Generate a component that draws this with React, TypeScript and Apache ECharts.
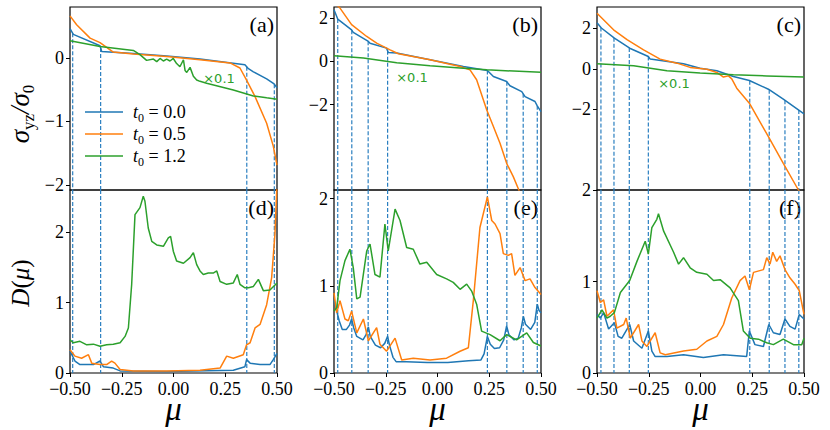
import React, { useEffect, useRef } from "react";
import * as echarts from "echarts";

// ---------- data ----------
const muTicks = [-0.5, -0.25, 0, 0.25, 0.5];
const seriesNames = ["t0 = 0.0", "t0 = 0.5", "t0 = 1.2"];
const seriesColors = ["#1f77b4", "#ff7f0e", "#2ca02c"];
const panelLetters = ["(a)", "(b)", "(c)", "(d)", "(e)", "(f)"];

const topTicksA = [-2, -1, 0];
const topTicksBC = [-2, 0, 2];
const bottomTicks = [0, 1, 2];
const topRanges = [[-2.08, 0.8], [-5.97, 2.53], [-6.0, 3.06]];
const bottomRanges = [[0, 2.6], [0, 2.1], [0, 2.0]];

const dashA = [-0.487, -0.352, 0.354, 0.487];
const dashB = [-0.482, -0.414, -0.335, -0.241, 0.241, 0.335, 0.414, 0.482];
const dashC = [-0.481, -0.418, -0.344, -0.252, 0.238, 0.332, 0.408, 0.475];

// panel (a): sigma_yz / sigma_0
const aBlue = [[-0.5, 0.46], [-0.484, 0.37], [-0.355, 0.19], [-0.347, 0.1], [-0.194, 0.07], [-0.033, 0.03], [0.128, -0.02], [0.345, -0.11], [0.362, -0.17], [0.386, -0.22], [0.45, -0.33], [0.486, -0.41], [0.5, -0.47]];
const aOrange = [[-0.5, 0.66], [-0.468, 0.52], [-0.403, 0.31], [-0.355, 0.24], [-0.291, 0.09], [-0.194, 0.06], [-0.033, 0.02], [0.128, -0.03], [0.273, -0.08], [0.321, -0.16], [0.353, -0.35], [0.394, -0.61], [0.45, -1.03], [0.482, -1.39], [0.5, -1.69]];
const aGreen = [[-0.5, 0.27], [-0.355, 0.18], [-0.194, 0.116], [-0.162, 0.05], [-0.13, -0.04], [-0.097, -0.02], [-0.081, -0.06], [-0.065, -0.01], [-0.049, -0.05], [-0.033, -0.02], [-0.017, -0.05], [-0.001, -0.01], [0.015, -0.09], [0.031, -0.14], [0.048, -0.03], [0.056, -0.2], [0.064, -0.23], [0.08, -0.15], [0.096, -0.29], [0.112, -0.35], [0.128, -0.37], [0.16, -0.4], [0.289, -0.505], [0.386, -0.6], [0.45, -0.63], [0.5, -0.65]];

// panel (b)
const bBlue = [[-0.5, 2.4], [-0.482, 1.97], [-0.415, 1.47], [-0.407, 1.35], [-0.334, 0.93], [-0.326, 0.85], [-0.246, 0.62], [-0.238, 0.42], [-0.197, 0.39], [-0.036, 0.08], [0.125, -0.23], [0.241, -0.42], [0.27, -0.7], [0.334, -0.93], [0.35, -1.13], [0.407, -1.4], [0.423, -1.63], [0.471, -1.86], [0.482, -2.06], [0.5, -2.33]];
const bOrange = [[-0.5, 2.75], [-0.471, 2.48], [-0.415, 1.71], [-0.342, 1.16], [-0.294, 0.85], [-0.229, 0.54], [-0.189, 0.36], [-0.036, 0.08], [0.109, -0.23], [0.157, -0.39], [0.189, -0.85], [0.238, -2.25], [0.27, -3.02], [0.302, -3.8], [0.334, -4.73], [0.366, -5.35], [0.39, -5.9], [0.399, -6.12]];
const bGreen = [[-0.5, 0.26], [-0.358, 0.16], [-0.197, -0.06], [-0.036, -0.2], [0.125, -0.31], [0.238, -0.39], [0.5, -0.5]];

// panel (c)
const cBlue = [[-0.5, 2.28], [-0.479, 2.02], [-0.416, 1.52], [-0.342, 1.02], [-0.252, 0.61], [-0.243, 0.48], [-0.082, 0.25], [-0.002, 0.03], [0.079, -0.1], [0.159, -0.38], [0.236, -0.58], [0.328, -1.01], [0.4, -1.5], [0.473, -2.03], [0.5, -2.23]];
const cOrange = [[-0.5, 2.75], [-0.42, 1.93], [-0.355, 1.44], [-0.275, 0.94], [-0.195, 0.48], [-0.114, 0.28], [-0.05, 0.07], [0.031, -0.02], [0.079, -0.18], [0.111, -0.41], [0.135, -0.35], [0.151, -0.5], [0.175, -0.96], [0.236, -1.7], [0.328, -3.36], [0.4, -4.68], [0.473, -6.0], [0.48, -6.1]];
const cGreen = [[-0.5, 0.25], [-0.323, 0.15], [-0.162, -0.1], [-0.002, -0.21], [0.159, -0.3], [0.32, -0.35], [0.5, -0.41]];

// panel (d): D(mu)
const dBlue = [[-0.5, 0.31], [-0.476, 0.17], [-0.452, 0.12], [-0.387, 0.12], [-0.355, 0.17], [-0.339, 0.09], [-0.291, 0.07], [-0.258, 0.03], [-0.033, 0.02], [0.289, 0.04], [0.345, 0.09], [0.353, 0.19], [0.37, 0.14], [0.418, 0.12], [0.466, 0.12], [0.482, 0.19], [0.5, 0.28]];
const dOrange = [[-0.5, 0.33], [-0.476, 0.24], [-0.444, 0.21], [-0.411, 0.26], [-0.395, 0.14], [-0.355, 0.12], [-0.323, 0.12], [-0.299, 0.17], [-0.283, 0.14], [-0.258, 0.05], [-0.194, 0.03], [-0.033, 0.03], [0.128, 0.04], [0.225, 0.07], [0.257, 0.24], [0.289, 0.21], [0.337, 0.26], [0.353, 0.4], [0.37, 0.43], [0.394, 0.64], [0.418, 0.69], [0.45, 0.97], [0.474, 1.35], [0.49, 1.97], [0.5, 2.7]];
const dGreen = [[-0.5, 0.47], [-0.484, 0.43], [-0.452, 0.45], [-0.419, 0.4], [-0.387, 0.41], [-0.355, 0.38], [-0.323, 0.4], [-0.291, 0.41], [-0.258, 0.43], [-0.234, 0.52], [-0.218, 0.64], [-0.202, 1.26], [-0.186, 2.25], [-0.162, 2.35], [-0.146, 2.51], [-0.138, 2.44], [-0.122, 2.06], [-0.105, 1.87], [-0.081, 1.82], [-0.049, 1.8], [-0.025, 1.92], [-0.014, 1.94], [-0.001, 1.73], [0.015, 1.59], [0.048, 1.56], [0.08, 1.64], [0.096, 1.71], [0.112, 1.54], [0.128, 1.45], [0.144, 1.4], [0.168, 1.42], [0.192, 1.42], [0.209, 1.45], [0.225, 1.3], [0.257, 1.26], [0.289, 1.28], [0.308, 1.4], [0.321, 1.26], [0.345, 1.21], [0.362, 1.21], [0.386, 1.23], [0.41, 1.33], [0.434, 1.17], [0.466, 1.18], [0.5, 1.28]];

// panel (e)
const eBlue = [[-0.5, 0.83], [-0.49, 0.74], [-0.475, 0.6], [-0.46, 0.5], [-0.44, 0.5], [-0.425, 0.55], [-0.415, 0.62], [-0.405, 0.52], [-0.39, 0.42], [-0.36, 0.38], [-0.345, 0.44], [-0.334, 0.53], [-0.325, 0.42], [-0.3, 0.32], [-0.275, 0.29], [-0.255, 0.34], [-0.241, 0.42], [-0.232, 0.32], [-0.215, 0.18], [-0.2, 0.13], [-0.15, 0.13], [-0.05, 0.12], [0.05, 0.12], [0.15, 0.14], [0.21, 0.15], [0.225, 0.22], [0.241, 0.42], [0.255, 0.33], [0.275, 0.28], [0.3, 0.29], [0.32, 0.38], [0.334, 0.54], [0.345, 0.44], [0.37, 0.38], [0.39, 0.4], [0.405, 0.52], [0.415, 0.65], [0.425, 0.56], [0.45, 0.5], [0.47, 0.58], [0.482, 0.79], [0.49, 0.72], [0.5, 0.69]];
const eOrange = [[-0.5, 0.92], [-0.487, 0.69], [-0.471, 0.83], [-0.447, 0.62], [-0.431, 0.6], [-0.415, 0.71], [-0.39, 0.46], [-0.358, 0.62], [-0.334, 0.37], [-0.294, 0.52], [-0.278, 0.33], [-0.246, 0.25], [-0.205, 0.4], [-0.173, 0.15], [-0.117, 0.17], [-0.036, 0.15], [0.044, 0.17], [0.109, 0.25], [0.149, 0.29], [0.173, 0.83], [0.205, 1.67], [0.241, 2.02], [0.262, 1.75], [0.278, 1.71], [0.302, 1.6], [0.318, 1.37], [0.342, 1.35], [0.358, 1.37], [0.374, 1.12], [0.399, 1.21], [0.423, 1.06], [0.447, 1.08], [0.471, 0.98], [0.5, 0.9]];
const eGreen = [[-0.5, 0.71], [-0.487, 0.75], [-0.471, 1.06], [-0.447, 1.29], [-0.423, 1.42], [-0.407, 1.21], [-0.39, 0.85], [-0.374, 0.87], [-0.342, 1.4], [-0.326, 1.48], [-0.302, 1.13], [-0.278, 1.1], [-0.254, 1.71], [-0.238, 1.4], [-0.205, 1.88], [-0.181, 1.75], [-0.149, 1.44], [-0.117, 1.42], [-0.085, 1.25], [-0.052, 1.27], [-0.004, 1.13], [0.044, 1.08], [0.076, 1.04], [0.109, 0.96], [0.141, 1.02], [0.165, 0.94], [0.189, 0.79], [0.213, 0.48], [0.254, 0.44], [0.302, 0.37], [0.334, 0.44], [0.382, 0.38], [0.431, 0.46], [0.463, 0.35], [0.5, 0.31]];

// panel (f)
const fBlue = [[-0.5, 0.64], [-0.484, 0.6], [-0.468, 0.66], [-0.444, 0.48], [-0.416, 0.55], [-0.398, 0.4], [-0.38, 0.38], [-0.342, 0.53], [-0.323, 0.35], [-0.283, 0.27], [-0.252, 0.46], [-0.235, 0.24], [-0.219, 0.18], [-0.162, 0.18], [-0.082, 0.2], [0.014, 0.17], [0.111, 0.2], [0.223, 0.18], [0.236, 0.46], [0.263, 0.31], [0.304, 0.29], [0.33, 0.53], [0.352, 0.44], [0.384, 0.42], [0.408, 0.59], [0.432, 0.51], [0.457, 0.48], [0.477, 0.64], [0.5, 0.59]];
const fOrange = [[-0.5, 0.9], [-0.484, 0.77], [-0.468, 0.8], [-0.452, 0.62], [-0.42, 0.69], [-0.404, 0.49], [-0.371, 0.53], [-0.359, 0.6], [-0.339, 0.38], [-0.299, 0.53], [-0.283, 0.35], [-0.259, 0.29], [-0.219, 0.44], [-0.195, 0.22], [-0.17, 0.2], [-0.082, 0.24], [-0.018, 0.26], [0.031, 0.35], [0.079, 0.4], [0.111, 0.53], [0.151, 0.82], [0.191, 1.01], [0.215, 1.06], [0.236, 0.91], [0.256, 1.1], [0.304, 1.13], [0.32, 1.26], [0.336, 1.19], [0.349, 1.32], [0.368, 1.22], [0.384, 1.28], [0.408, 1.13], [0.432, 1.04], [0.457, 0.97], [0.477, 0.9], [0.5, 0.64]];
const fGreen = [[-0.5, 0.6], [-0.476, 0.69], [-0.452, 0.6], [-0.436, 0.62], [-0.416, 0.66], [-0.387, 0.88], [-0.342, 1.01], [-0.307, 1.22], [-0.267, 1.44], [-0.252, 1.3], [-0.235, 1.59], [-0.211, 1.68], [-0.203, 1.74], [-0.178, 1.55], [-0.13, 1.32], [-0.106, 1.19], [-0.082, 1.26], [-0.05, 1.15], [-0.018, 1.1], [0.031, 1.08], [0.063, 1.01], [0.095, 1.02], [0.111, 0.99], [0.143, 0.93], [0.183, 0.79], [0.207, 0.46], [0.24, 0.38], [0.28, 0.37], [0.32, 0.33], [0.352, 0.31], [0.4, 0.37], [0.449, 0.31], [0.489, 0.31], [0.5, 0.38]];

const topData = [[aBlue, aOrange, aGreen], [bBlue, bOrange, bGreen], [cBlue, cOrange, cGreen]];
const bottomData = [[dBlue, dOrange, dGreen], [eBlue, eOrange, eGreen], [fBlue, fOrange, fGreen]];
const dashData = [dashA, dashB, dashC];
const topTickSets = [topTicksA, topTicksBC, topTicksBC];

// ---------- helpers ----------
function interp(pts: number[][], x: number) {
  for (let i = 0; i < pts.length - 1; i++) {
    if (x >= pts[i][0] && x <= pts[i + 1][0]) {
      const t = (x - pts[i][0]) / (pts[i + 1][0] - pts[i][0]);
      return pts[i][1] + t * (pts[i + 1][1] - pts[i][1]);
    }
  }
  return pts[pts.length - 1][1];
}
const minus = (v: number, d: number) => (v < 0 ? "\u2212" : "") + Math.abs(v).toFixed(d);

const SERIF = "'Liberation Serif', 'Times New Roman', serif";

export default function App() {
  const ref = useRef<HTMLDivElement>(null);
  useEffect(() => {
    document.body.style.margin = "0";
    const chart = echarts.init(ref.current!, undefined, { renderer: "svg" });
    const colLeft = [70, 334, 597];
    const W = 207;
    const H = 183;
    const topY = 7;
    const botY = 190;

    const grids: any[] = [];
    const xAxes: any[] = [];
    const yAxes: any[] = [];
    const series: any[] = [];
    const graphics: any[] = [];

    const gridStyle = { show: true, borderColor: "#000", borderWidth: 1.2, backgroundColor: "transparent" };
    const tick = { show: true, inside: false, length: 4, lineStyle: { color: "#000", width: 1 } };
    const lbl = { color: "#000", fontFamily: SERIF, fontSize: 18 };

    for (let c = 0; c < 3; c++) {
      for (let r = 0; r < 2; r++) {
        const gi = grids.length;
        grids.push({ left: colLeft[c], top: r === 0 ? topY : botY, width: W, height: H, ...gridStyle });
        xAxes.push({
          type: "value", gridIndex: gi, min: -0.5, max: 0.5, interval: 0.25,
          axisLine: { show: false, onZero: false }, splitLine: { show: false },
          axisTick: r === 1 ? tick : { show: false },
          axisLabel: r === 1 ? { ...lbl, margin: 7, showMinLabel: true, showMaxLabel: true, formatter: (v: number) => minus(v, 2) } : { show: false },
        });
        const range = r === 0 ? topRanges[c] : bottomRanges[c];
        const ticks = r === 0 ? topTickSets[c] : bottomTicks;
        yAxes.push({
          type: "value", gridIndex: gi, min: range[0], max: range[1],
          axisLine: { show: false, onZero: false }, splitLine: { show: false },
          axisTick: { ...tick, customValues: ticks },
          axisLabel: { ...lbl, margin: 6, customValues: ticks, formatter: (v: number) => minus(v, 0) },
        });
        const sets = r === 0 ? topData[c] : bottomData[c];
        // dashed guide lines at the blue curve's kinks
        dashData[c].forEach((m) => {
          const y1 = r === 0 ? interp(sets[0], m) : range[1];
          series.push({
            type: "line", name: "guide", xAxisIndex: gi, yAxisIndex: gi,
            data: [[m, y1], [m, range[0]]], symbol: "none", silent: true, z: 1,
            lineStyle: { color: "#2a7fc0", width: 1.2, type: [4, 2] },
          });
        });
        sets.forEach((pts, k) => {
          series.push({
            type: "line", name: seriesNames[k], xAxisIndex: gi, yAxisIndex: gi,
            data: pts, symbol: "none", clip: true, z: 2 + k,
            lineStyle: { color: seriesColors[k], width: 1.5 }, itemStyle: { color: seriesColors[k] },
          });
        });
        graphics.push({
          type: "text", x: colLeft[c] + W - 3, y: (r === 0 ? topY : botY) + 17,
          style: { text: panelLetters[r * 3 + c], fontFamily: SERIF, fontSize: 22, fill: "#000", align: "right", verticalAlign: "middle" },
        });
      }
      graphics.push({
        type: "text", x: colLeft[c] + W / 2, y: 409,
        style: {
          text: "{m|\u03bc}", align: "center", verticalAlign: "middle",
          rich: { m: { fontFamily: SERIF, fontStyle: "italic", fontSize: 33, lineHeight: 10, fill: "#000" } },
        },
      });
    }

    const xPos = [[219, 78], [412, 77], [674, 83]];
    xPos.forEach(([x, y]) =>
      graphics.push({
        type: "text", x, y,
        style: { text: "\u00d70.1", fontFamily: "'DejaVu Sans'", fontSize: 13, fill: "#2ca02c", align: "center", verticalAlign: "middle" },
      })
    );

    graphics.push({
      type: "text", x: 20, y: 114, rotation: Math.PI / 2,
      style: {
        text: "{g|\u03c3}{s|yz}{g|/\u03c3}{s|0}", align: "center", verticalAlign: "middle",
        rich: {
          g: { fontFamily: SERIF, fontStyle: "italic", fontSize: 27, lineHeight: 33, fill: "#000" },
          s: { fontFamily: SERIF, fontSize: 17, lineHeight: 17, verticalAlign: "bottom", fill: "#000" },
        },
      },
    });
    graphics.push({
      type: "text", x: 20, y: 283, rotation: Math.PI / 2,
      style: {
        text: "{i|D}{r|(}{i|\u03bc}{r|)}", align: "center", verticalAlign: "middle",
        rich: {
          i: { fontFamily: SERIF, fontStyle: "italic", fontSize: 25, fill: "#000" },
          r: { fontFamily: SERIF, fontSize: 25, fill: "#000" },
        },
      },
    });

    chart.setOption({
      animation: false,
      backgroundColor: "#fff",
      grid: grids,
      xAxis: xAxes,
      yAxis: yAxes,
      series,
      legend: {
        data: seriesNames, orient: "vertical", left: 85, top: 103, padding: 0,
        icon: "rect", itemWidth: 38, itemHeight: 1.6, itemGap: 1, selectedMode: false,
        formatter: (name: string) => `{i|t}{s|0}{n| = ${name.split("= ")[1]}}`,
        textStyle: {
          fontFamily: SERIF, fontSize: 17, color: "#000",
          rich: {
            i: { fontFamily: SERIF, fontStyle: "italic", fontSize: 18, lineHeight: 24, padding: [0, 0, 0, 5], color: "#000" },
            s: { fontFamily: SERIF, fontSize: 12, lineHeight: 12, verticalAlign: "bottom", color: "#000" },
            n: { fontFamily: SERIF, fontSize: 18, lineHeight: 24, color: "#000" },
          },
        },
      },
      graphic: graphics,
    });
    return () => chart.dispose();
  }, []);
  return <div ref={ref} style={{ width: 830, height: 430 }} />;
}
